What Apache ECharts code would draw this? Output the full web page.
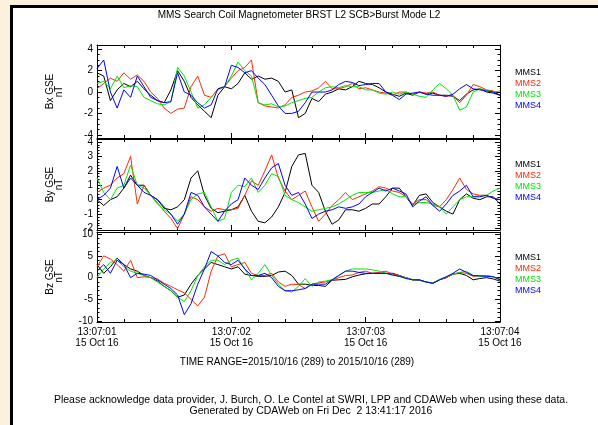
<!DOCTYPE html>
<html>
<head>
<meta charset="utf-8">
<script src="https://cdn.jsdelivr.net/npm/echarts@6/dist/echarts.min.js"></script>
<style>
html, body { margin: 0; padding: 0; background: #fbf1dc; }
#frame { position: absolute; left: 10px; top: 5px; width: 585px; height: 417px; background: #fff;
         border-left: 3px solid #000; border-top: 3px solid #000; }
#main { position: absolute; left: 0; top: 0; width: 598px; height: 425px; }
</style>
</head>
<body>
<div id="frame"></div>
<div id="main"></div>
<script>
// seconds after 13:07:01
var times = [0,0.05,0.1,0.15,0.2,0.25,0.3,0.35,0.4,0.45,0.5,0.55,0.6,0.65,0.7,0.75,0.8,0.85,0.9,0.95,
  1,1.05,1.1,1.15,1.2,1.25,1.3,1.35,1.4,1.45,1.5,1.55,1.6,1.65,1.7,1.75,1.8,1.85,1.9,1.95,
  2,2.05,2.1,2.15,2.2,2.25,2.3,2.35,2.4,2.45,2.5,2.55,2.6,2.65,2.7,2.75,2.8,2.85,2.9,2.95,3];
var timeLabels = ['13:07:01', '13:07:02', '13:07:03', '13:07:04'];
var dateLabel = '15 Oct 16';
var seriesNames = ['MMS1', 'MMS2', 'MMS3', 'MMS4'];
var seriesColors = ['#000000', '#ff2a00', '#00e400', '#0000ff'];

// Bx GSE (nT)
var bx1 = [1.8,1.5,-0.8,0.2,0.8,0.5,1.0,0.3,-0.3,-0.8,-1.0,0.2,2.0,1.0,-0.5,-1.2,-1.8,-2.4,-0.3,0.5,
  0.3,0.8,1.8,1.2,1.5,1.2,1.3,1.0,0.0,0.2,-2.4,-2.0,-0.6,-0.9,-0.2,0.0,0.3,0.2,0.5,1.0,
  0.8,0.7,0.4,0.0,-0.2,-0.4,-0.1,-0.3,0.0,-0.2,-0.1,-0.3,-0.3,-0.4,-0.8,-0.2,0.2,0.3,0.0,-0.1,-0.3];
var bx2 = [0.3,0.8,1.3,1.0,1.8,1.2,1.6,1.0,0.0,-0.6,-1.5,-2.0,-1.6,-1.5,0.5,1.5,-0.3,-0.5,0.3,0.5,
  1.3,2.0,2.3,3.0,-1.0,-1.3,-1.4,-1.5,-1.2,-0.5,-0.3,0.0,0.1,0.4,1.0,0.3,0.3,0.5,0.8,0.3,
  0.4,0.2,0.0,-0.1,-0.3,0.0,0.0,-0.2,0.0,-0.1,0.0,-0.3,-0.4,-0.3,-1.0,-0.3,0.7,0.5,0.2,0.1,-0.3];
var bx3 = [0.8,1.0,0.3,1.5,0.4,0.6,0.5,-0.5,-0.8,-1.1,-1.2,-0.9,2.3,1.5,0.0,-1.5,-1.2,-0.5,0.2,0.5,
  1.5,2.8,2.0,1.5,-1.0,-1.2,-1.1,-1.4,-1.3,-1.0,-0.8,-0.6,-0.5,0.0,0.4,0.5,0.4,0.6,0.5,0.5,
  0.2,0.2,-0.1,-0.2,0.0,-0.2,0.0,-0.2,-0.4,-0.5,0.2,0.8,0.3,-0.3,-1.7,-1.4,0.0,0.3,0.2,0.0,0.1];
var bx4 = [2.2,3.0,0.0,-1.5,0.2,-0.5,1.5,0.5,-0.5,-0.8,-1.0,-0.9,1.8,0.0,-0.3,-1.0,-1.5,-1.2,0.3,0.5,
  2.5,2.3,1.8,2.0,1.3,0.7,-0.3,-1.3,-2.0,-2.0,-1.8,-1.0,0.0,0.0,0.0,0.2,0.7,1.0,0.9,0.6,
  0.7,0.8,0.8,0.0,-0.3,-0.7,-0.2,-0.1,0.0,-0.2,-0.3,-0.3,-0.4,-0.2,0.3,0.7,0.3,0.2,0.1,0.0,-0.3];

// By GSE (nT)
var by1 = [0.0,-0.4,0.0,0.2,0.8,1.7,1.0,1.0,0.3,0.0,-0.6,-0.7,-0.5,0.0,1.5,2.0,0.3,-0.6,-0.9,-0.8,
  -0.7,-0.5,0.3,-0.8,-1.5,-1.6,-1.2,-0.5,0.5,2.3,3.1,3.2,1.0,0.5,-0.8,-1.7,-1.4,-0.7,-0.7,-0.8,
  -0.6,-0.3,-0.3,0.2,0.8,0.8,0.2,-0.4,0.3,0.4,-0.2,-0.5,-0.8,-1.0,0.0,0.4,0.1,0.0,0.2,0.2,-0.3];
var by2 = [0.5,0.8,1.0,1.5,1.8,3.0,-0.3,1.0,0.3,-0.2,-0.8,-1.3,-2.0,-1.0,0.2,0.0,-0.5,-0.8,-0.6,-0.7,
  -0.7,-0.6,0.3,1.3,1.0,2.0,3.1,1.5,0.6,0.0,0.3,0.6,-0.5,-1.5,-1.0,-0.4,0.0,0.5,0.0,0.2,
  0.4,0.6,0.9,0.8,0.6,0.5,0.2,-0.3,0.0,0.0,-0.4,-0.5,0.0,0.7,1.5,0.7,0.4,0.3,0.3,0.1,0.0];
var by3 = [1.5,0.5,0.0,0.8,1.0,2.4,1.0,0.8,0.3,-0.3,-0.7,-1.0,-1.5,-1.0,0.0,0.4,0.5,-0.5,-1.5,-1.3,
  0.5,1.0,0.9,1.5,0.5,1.0,1.8,1.6,0.3,0.0,-0.2,-0.5,-0.8,-0.7,-0.6,-0.5,-0.3,0.0,0.3,0.5,
  0.5,0.5,0.6,0.7,0.4,0.2,0.2,-0.3,-0.2,-0.2,-0.3,-0.5,-1.0,-0.5,0.0,0.2,0.2,0.3,0.3,0.6,0.8];
var by4 = [0.0,0.3,0.8,2.3,0.8,1.5,1.0,0.5,0.3,0.0,-0.5,-1.0,-1.7,-1.0,0.5,0.3,-0.5,-1.0,-1.5,-0.8,
  -0.3,0.0,1.5,1.0,0.7,1.5,2.2,2.5,1.0,0.3,0.5,-0.3,-1.3,-1.0,-0.8,-0.7,-0.5,-0.6,-0.5,-0.3,
  0.2,0.5,0.8,0.6,0.8,0.6,0.4,-0.5,-0.1,0.2,-0.4,-0.8,-0.3,0.3,0.6,1.0,0.2,0.2,0.3,0.1,0.0];

// Bz GSE (nT)
var bz1 = [3.0,1.0,2.5,4.5,3.0,2.0,1.5,0.5,0.0,-0.8,-2.0,-3.0,-4.5,-4.0,-1.5,0.5,2.0,3.5,3.0,2.5,
  2.0,2.5,0.8,0.5,0.3,0.3,0.5,1.3,1.5,0.5,-1.5,-1.5,-1.8,-1.8,-2.0,-0.6,-0.5,-0.4,0.2,0.6,
  0.9,1.0,1.0,1.0,1.0,0.5,0.0,-0.5,-0.6,-1.0,-1.3,-0.5,0.0,0.8,1.0,0.5,-0.5,-0.2,0.0,-0.3,-0.8];
var bz2 = [2.5,5.0,4.3,3.0,1.5,4.0,0.0,0.2,0.0,-0.3,-1.3,-2.0,-2.8,-3.5,-5.0,-6.5,-4.5,1.5,5.0,5.5,
  2.5,3.0,3.5,1.0,0.5,0.5,1.0,-1.0,-2.0,-1.5,-1.6,-2.5,-1.5,-1.2,-1.0,-0.5,0.0,0.5,0.6,1.2,
  1.5,1.0,1.2,1.5,0.8,0.5,0.0,-0.5,-0.5,-1.0,-1.2,-0.5,0.0,0.8,1.2,1.0,0.3,0.4,0.5,0.2,-0.5];
var bz3 = [0.0,2.0,3.5,4.0,2.5,1.5,1.0,0.5,0.0,-1.0,-2.0,-3.0,-4.5,-5.5,-3.0,0.5,2.5,4.0,4.0,3.0,
  4.0,4.5,2.0,-0.5,1.0,3.0,0.5,-1.5,-3.0,-3.3,-2.0,-0.2,-2.0,-1.0,-0.8,-0.5,0.5,1.5,2.0,2.0,
  2.0,1.8,1.5,1.0,0.6,0.3,0.0,-0.5,-0.5,-1.0,-1.2,-0.4,0.2,0.8,1.2,1.5,0.5,0.3,0.4,0.2,-0.3];
var bz4 = [1.5,3.0,1.0,4.0,3.0,0.0,1.0,0.8,0.5,-0.5,-1.5,-2.5,-4.0,-8.5,-6.0,-1.5,2.0,6.0,5.0,3.5,
  3.0,4.0,2.0,0.5,0.5,1.0,0.0,-2.0,-3.0,-3.0,-2.8,-2.5,-1.5,-1.5,-1.5,-0.5,0.5,1.5,1.5,1.2,
  1.0,1.0,1.0,1.0,0.6,0.3,-0.2,-0.5,-0.5,-1.0,-1.3,-0.5,0.2,1.0,2.0,1.2,0.5,0.4,0.3,0.2,-0.5];

var FONT = 'Liberation Sans';
var panels = [
  { name: 'Bx GSE\nnT', top: 45, height: 93, min: -4.3, max: 4.4, labels: [-4, -2, 0, 2, 4], minor: 0.5,
    data: [bx1, bx2, bx3, bx4], legendTop: 73 },
  { name: 'By GSE\nnT', top: 139, height: 91, min: -2.1, max: 4.2, labels: [-2, -1, 0, 1, 2, 3, 4], minor: 0.2,
    data: [by1, by2, by3, by4], legendTop: 165 },
  { name: 'Bz GSE\nnT', top: 232, height: 90, min: -10.2, max: 10.5, labels: [-10, -5, 0, 5, 10], minor: 1,
    data: [bz1, bz2, bz3, bz4], legendTop: 258 }
];

var myChart = echarts.init(document.getElementById('main'));
var grids = [], xAxes = [], yAxes = [], series = [], graphics = [];

panels.forEach(function (p, i) {
  grids.push({ left: 97, right: 98, top: p.top, height: p.height });

  var minorVals = [];
  for (var v = Math.ceil(p.min / p.minor) * p.minor; v <= p.max + 1e-9; v += p.minor) {
    minorVals.push(Math.round(v * 100) / 100);
  }

  ['bottom', 'top'].forEach(function (pos) {
    xAxes.push({
      type: 'value', gridIndex: i, position: pos, min: 0, max: 3, interval: 1,
      axisLine: { onZero: false, lineStyle: { color: '#000', width: 1 } },
      axisTick: { inside: true, length: 5, lineStyle: { color: '#000' } },
      minorTick: { show: true, splitNumber: 5, length: 3, lineStyle: { color: '#000' } },
      splitLine: { show: false },
      axisLabel: {
        show: pos === 'bottom' && i === 2, margin: 5, fontFamily: FONT, fontSize: 10, color: '#000',
        lineHeight: 11,
        formatter: function (val) { return timeLabels[Math.round(val)] + '\n' + dateLabel; }
      }
    });
  });

  ['left', 'right'].forEach(function (pos) {
    yAxes.push({
      type: 'value', gridIndex: i, position: pos, min: p.min, max: p.max,
      name: pos === 'left' ? p.name : '', nameLocation: 'middle', nameRotate: 90, nameGap: 33,
      nameTextStyle: { fontFamily: FONT, fontSize: 10, color: '#000', lineHeight: 9 },
      axisLine: { show: true, onZero: false, lineStyle: { color: '#000', width: 1 } },
      axisTick: { inside: true, length: 5, customValues: p.labels, lineStyle: { color: '#000' } },
      splitLine: { show: false },
      axisLabel: { show: pos === 'left', customValues: p.labels, margin: 4,
                   fontFamily: FONT, fontSize: 10, color: '#000' }
    });
    yAxes.push({
      type: 'value', gridIndex: i, position: pos, min: p.min, max: p.max,
      axisLine: { show: false, onZero: false },
      axisTick: { inside: true, length: 2.5, customValues: minorVals, lineStyle: { color: '#000' } },
      splitLine: { show: false },
      axisLabel: { show: false }
    });
  });

  p.data.forEach(function (arr, k) {
    series.push({
      name: seriesNames[k] + '_' + i, type: 'line', xAxisIndex: i * 2, yAxisIndex: i * 4,
      showSymbol: false, silent: true, animation: false,
      lineStyle: { color: seriesColors[k], width: 1 },
      data: times.map(function (t, j) { return [t, arr[j]]; })
    });
    graphics.push({
      type: 'text', left: 515, top: p.legendTop + k * 11 - 5,
      style: { text: seriesNames[k], fill: seriesColors[k], font: '9px ' + FONT }
    });
  });
});

graphics.push({ type: 'text', left: 'center', top: 10,
  style: { text: 'MMS Search Coil Magnetometer BRST L2 SCB>Burst Mode L2', fill: '#000', font: '10px ' + FONT } });
graphics.push({ type: 'text', x: 297, y: 362,
  style: { text: 'TIME RANGE=2015/10/16 (289) to 2015/10/16 (289)', fill: '#000', font: '10px ' + FONT,
           align: 'center', verticalAlign: 'middle' } });
graphics.push({ type: 'text', x: 311, y: 400,
  style: { text: 'Please acknowledge data provider, J. Burch, O. Le Contel at SWRI, LPP and CDAWeb when using these data.',
           fill: '#000', font: '10.5px ' + FONT, align: 'center', verticalAlign: 'middle' } });
graphics.push({ type: 'text', x: 311, y: 411,
  style: { text: 'Generated by CDAWeb on Fri Dec  2 13:41:17 2016', fill: '#000', font: '10.5px ' + FONT,
           align: 'center', verticalAlign: 'middle' } });

var option = {
  animation: false,
  backgroundColor: 'transparent',
  grid: grids,
  xAxis: xAxes,
  yAxis: yAxes,
  series: series,
  graphic: graphics
};
option && myChart.setOption(option);
</script>
</body>
</html>
